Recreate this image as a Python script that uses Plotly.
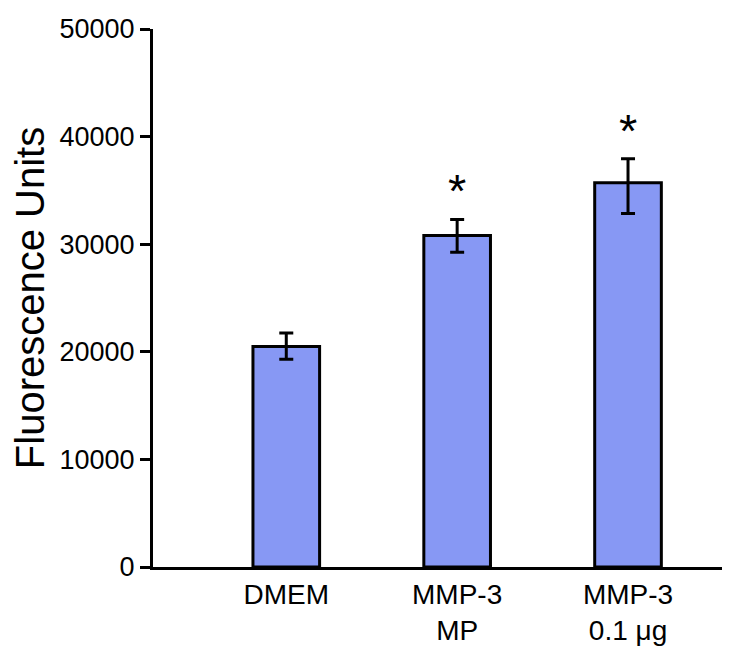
import plotly.graph_objects as go

# ---- data ----
groups = ["DMEM", "MMP-3<br>MP", "MMP-3<br>0.1 \u03bcg"]
means = [20500, 30800, 35700]
err_plus = [1250, 1500, 2250]
err_minus = [1200, 1550, 2850]
signif = ["", "*", "*"]
y_ticks = [0, 10000, 20000, 30000, 40000, 50000]

bar_color = "#8798f4"
line_color = "black"

fig = go.Figure()
fig.add_trace(go.Bar(
    x=groups, y=means, width=0.39,
    marker=dict(color=bar_color, line=dict(color=line_color, width=3)),
    error_y=dict(type="data", array=err_plus, arrayminus=err_minus, symmetric=False,
                 color=line_color, thickness=3, width=7),
))

# significance stars above the error bars
for g, m, e, s in zip(groups, means, err_plus, signif):
    if s:
        fig.add_annotation(x=g, y=m + e, text=s, showarrow=False, yanchor="bottom",
                           yshift=0, font=dict(size=47, color="black", family="Arial"))

fig.update_xaxes(range=[-0.78, 2.55], showline=True, linewidth=3, linecolor=line_color,
                 ticks="", showgrid=False, tickfont=dict(size=28), automargin=False)
fig.update_yaxes(range=[0, 50000], tickvals=y_ticks, tickformat="d", showline=True, linewidth=3,
                 linecolor=line_color, ticks="outside", ticklen=10, tickwidth=3,
                 tickcolor=line_color, showgrid=False, zeroline=False, automargin=False,
                 tickfont=dict(size=27), title=dict(text="Fluorescence Units", font=dict(size=40),
                                                   standoff=11))
# page body adds ~8px offset, margins compensate
fig.update_layout(width=736, height=651, showlegend=False,
                  font=dict(family="Arial", color="black"),
                  margin=dict(l=145, r=22, t=21, b=92),
                  plot_bgcolor="white", paper_bgcolor="white")

fig.write_html("out.html")
